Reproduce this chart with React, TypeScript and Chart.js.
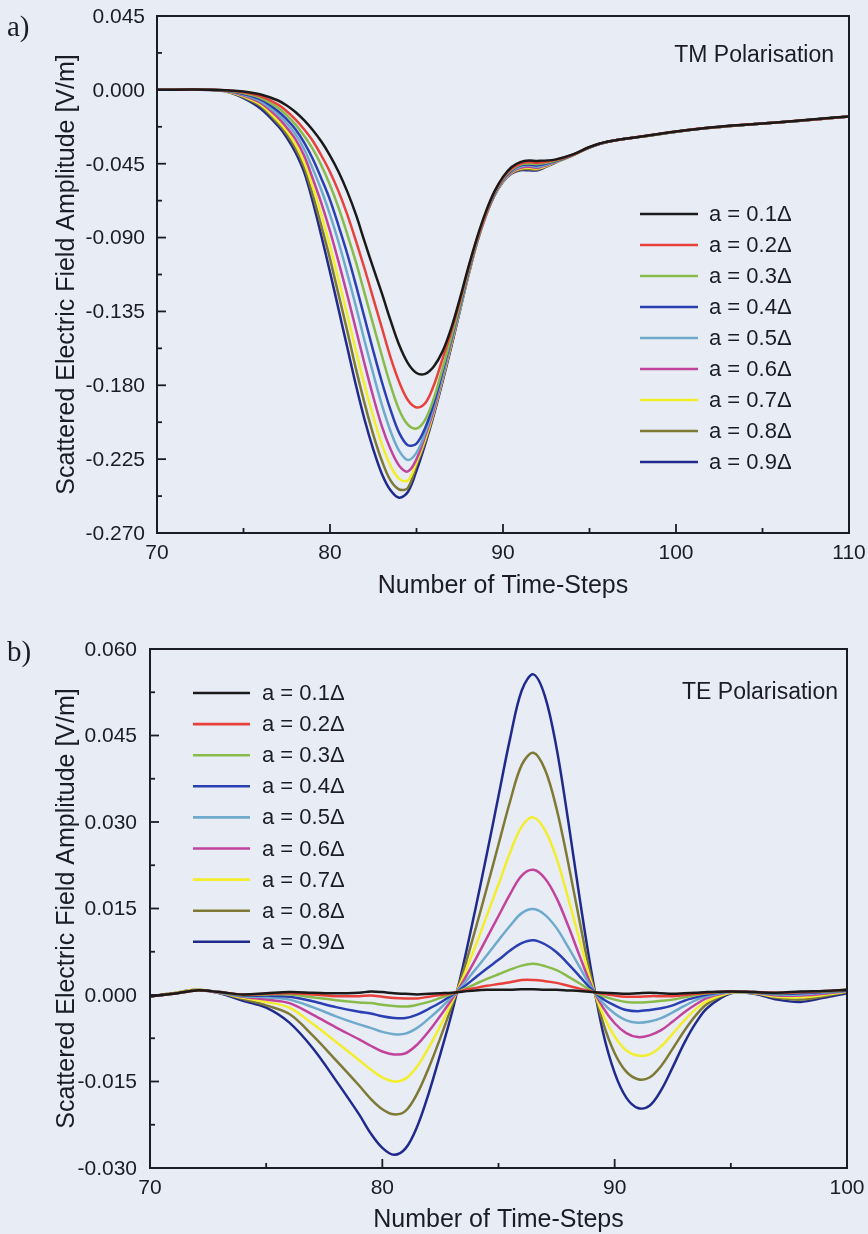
import React, { useEffect, useRef } from "react";
import { Chart, registerables } from "chart.js";

Chart.register(...registerables);

// ---------- shared ----------
const SERIES_LABELS = ["a = 0.1Δ", "a = 0.2Δ", "a = 0.3Δ", "a = 0.4Δ", "a = 0.5Δ", "a = 0.6Δ", "a = 0.7Δ", "a = 0.8Δ", "a = 0.9Δ"];
const SERIES_COLORS = ["#1a1a1a", "#e8413b", "#88bb4a", "#2a3fb2", "#6eaacb", "#c2439b", "#f2ee2c", "#7e7934", "#1f2a8c"];

// ---------- a) TM polarisation ----------
const TM_X = [70, 72, 73, 74, 75, 76, 77, 77.5, 78, 78.5, 79, 79.5, 80, 80.5, 81, 81.5, 82, 82.5, 83, 83.5, 84, 84.5, 85, 85.5, 86, 86.5, 87, 87.5, 88, 88.5, 89, 89.5, 90, 90.5, 91, 91.5, 92, 93, 94, 95, 96, 98, 100, 102, 104, 106, 108, 110];
const TM_A01 = [0, 0.0002, 0.0001, -0.0003, -0.001, -0.0028, -0.0065, -0.0095, -0.0135, -0.0185, -0.0245, -0.0315, -0.04, -0.05, -0.062, -0.076, -0.0925, -0.1085, -0.124, -0.1405, -0.1555, -0.1665, -0.1725, -0.173, -0.1685, -0.1595, -0.1455, -0.1275, -0.108, -0.09, -0.0745, -0.062, -0.053, -0.047, -0.044, -0.043, -0.0433, -0.0425, -0.0395, -0.0348, -0.0316, -0.0284, -0.0254, -0.0229, -0.0212, -0.0197, -0.0179, -0.0162];
const TM_A02 = [0, 0.0002, 0.0001, -0.0003, -0.0015, -0.004, -0.009, -0.013, -0.018, -0.024, -0.031, -0.04, -0.05, -0.062, -0.076, -0.092, -0.109, -0.127, -0.145, -0.163, -0.178, -0.189, -0.1935, -0.191, -0.18, -0.164, -0.1475, -0.129, -0.109, -0.091, -0.0755, -0.0625, -0.0535, -0.048, -0.045, -0.044, -0.0445, -0.0428, -0.0397, -0.0349, -0.0317, -0.0284, -0.0254, -0.023, -0.0212, -0.0197, -0.018, -0.0163];
const TM_A03 = [0, 0.0002, 0.0001, -0.0004, -0.002, -0.005, -0.011, -0.0155, -0.021, -0.028, -0.036, -0.046, -0.058, -0.072, -0.088, -0.105, -0.124, -0.143, -0.162, -0.18, -0.195, -0.204, -0.2063, -0.201, -0.188, -0.17, -0.151, -0.131, -0.11, -0.0915, -0.0758, -0.063, -0.054, -0.0485, -0.0455, -0.0448, -0.0452, -0.0432, -0.0398, -0.035, -0.0317, -0.0285, -0.0255, -0.023, -0.0213, -0.0198, -0.018, -0.0163];
const TM_A04 = [0, 0.0002, 0.0001, -0.0005, -0.0025, -0.006, -0.013, -0.018, -0.024, -0.032, -0.042, -0.054, -0.067, -0.083, -0.1, -0.119, -0.139, -0.159, -0.178, -0.195, -0.209, -0.2165, -0.2155, -0.206, -0.191, -0.172, -0.152, -0.132, -0.111, -0.092, -0.076, -0.0635, -0.0545, -0.049, -0.046, -0.0455, -0.046, -0.0435, -0.0399, -0.035, -0.0318, -0.0285, -0.0255, -0.023, -0.0213, -0.0198, -0.018, -0.0163];
const TM_A05 = [0, 0.0002, 0.0001, -0.0006, -0.003, -0.007, -0.015, -0.0205, -0.027, -0.036, -0.048, -0.061, -0.076, -0.093, -0.112, -0.132, -0.153, -0.173, -0.192, -0.208, -0.22, -0.2255, -0.221, -0.209, -0.193, -0.174, -0.153, -0.133, -0.1115, -0.0922, -0.0762, -0.0638, -0.055, -0.0495, -0.0468, -0.046, -0.0468, -0.0437, -0.0399, -0.035, -0.0318, -0.0285, -0.0255, -0.023, -0.0213, -0.0198, -0.018, -0.0163];
const TM_A06 = [0, 0.0002, 0.0001, -0.0007, -0.0035, -0.008, -0.017, -0.023, -0.03, -0.04, -0.054, -0.069, -0.086, -0.105, -0.125, -0.146, -0.167, -0.187, -0.205, -0.219, -0.229, -0.2325, -0.225, -0.211, -0.195, -0.175, -0.154, -0.1335, -0.112, -0.0925, -0.0765, -0.064, -0.0553, -0.05, -0.0475, -0.0468, -0.0475, -0.044, -0.0399, -0.0351, -0.0318, -0.0285, -0.0255, -0.0231, -0.0213, -0.0198, -0.018, -0.0163];
const TM_A07 = [0, 0.0002, 0, -0.0008, -0.004, -0.009, -0.019, -0.025, -0.033, -0.044, -0.059, -0.076, -0.095, -0.116, -0.137, -0.159, -0.18, -0.199, -0.216, -0.229, -0.237, -0.238, -0.227, -0.213, -0.196, -0.176, -0.155, -0.134, -0.1125, -0.0928, -0.0767, -0.0642, -0.0556, -0.0503, -0.048, -0.0475, -0.048, -0.0442, -0.04, -0.0351, -0.0318, -0.0285, -0.0255, -0.0231, -0.0213, -0.0198, -0.018, -0.0163];
const TM_A08 = [0, 0.0002, 0, -0.0009, -0.0045, -0.01, -0.0205, -0.027, -0.0355, -0.047, -0.064, -0.083, -0.103, -0.125, -0.147, -0.17, -0.191, -0.21, -0.226, -0.238, -0.2435, -0.2425, -0.2285, -0.2145, -0.197, -0.177, -0.156, -0.1345, -0.113, -0.093, -0.0768, -0.0643, -0.0558, -0.0507, -0.0485, -0.0483, -0.0485, -0.0443, -0.04, -0.0351, -0.0318, -0.0285, -0.0255, -0.0231, -0.0213, -0.0198, -0.018, -0.0163];
const TM_A09 = [0, 0.0002, -0.0001, -0.001, -0.005, -0.0115, -0.022, -0.029, -0.038, -0.05, -0.068, -0.089, -0.111, -0.134, -0.157, -0.18, -0.201, -0.219, -0.234, -0.244, -0.2485, -0.245, -0.232, -0.216, -0.198, -0.178, -0.157, -0.135, -0.113, -0.093, -0.077, -0.0645, -0.056, -0.051, -0.049, -0.049, -0.049, -0.0444, -0.04, -0.0352, -0.0318, -0.0285, -0.0255, -0.0231, -0.0213, -0.0198, -0.018, -0.0163];
const TM_Y_TICKS = [0.045, 0, -0.045, -0.09, -0.135, -0.18, -0.225, -0.27];
const TM_X_TICKS = [70, 80, 90, 100, 110];

// ---------- b) TE polarisation ----------
const TE_X = [70, 71, 72, 73, 74, 75, 76, 77, 78, 79, 79.5, 80, 80.5, 81, 81.5, 82, 82.5, 83, 83.5, 84, 84.5, 85, 85.5, 86, 86.5, 87, 87.5, 88, 88.5, 89, 89.5, 90, 90.5, 91, 91.5, 92, 92.5, 93, 93.5, 94, 95, 96, 97, 98, 99, 100];
const TE_A01 = [-0.0002, 0.0002, 0.0008, 0.0005, 0.0001, 0.0003, 0.0005, 0.0004, 0.0003, 0.0004, 0.0006, 0.0005, 0.0003, 0.0002, 0.0001, 0.0002, 0.0003, 0.0004, 0.0006, 0.0008, 0.0009, 0.0009, 0.0009, 0.001, 0.001, 0.0009, 0.0009, 0.0008, 0.0007, 0.0005, 0.0004, 0.0003, 0.0002, 0.0003, 0.0004, 0.0003, 0.0002, 0.0003, 0.0004, 0.0005, 0.0006, 0.0005, 0.0004, 0.0006, 0.0007, 0.0009];
const TE_A02 = [-0.0002, 0.0002, 0.0008, 0.0005, 0.0001, 0.0002, 0.0003, 0.0001, -0.0002, -0.0002, -0.0001, -0.0003, -0.0005, -0.0006, -0.0006, -0.0003, 0, 0.0003, 0.0008, 0.0012, 0.0016, 0.0019, 0.0022, 0.0026, 0.0026, 0.0024, 0.0021, 0.0016, 0.0011, 0.0006, 0.0002, -0.0001, -0.0003, -0.0003, -0.0002, -0.0002, -0.0002, 0, 0.0002, 0.0004, 0.0006, 0.0005, 0.0004, 0.0005, 0.0007, 0.0009];
const TE_A03 = [-0.0002, 0.0002, 0.0008, 0.0005, 0, 0.0001, 0.0001, -0.0004, -0.0009, -0.0013, -0.0014, -0.0017, -0.0019, -0.002, -0.0017, -0.0012, -0.0005, 0.0002, 0.001, 0.0019, 0.0028, 0.0036, 0.0044, 0.0051, 0.0054, 0.005, 0.0043, 0.0032, 0.002, 0.0007, -0.0002, -0.0008, -0.0012, -0.0013, -0.0012, -0.001, -0.0008, -0.0004, 0, 0.0003, 0.0006, 0.0005, 0.0003, 0.0005, 0.0006, 0.0009];
const TE_A04 = [-0.0002, 0.0002, 0.0008, 0.0005, -0.0001, -0.0001, -0.0003, -0.0011, -0.0021, -0.0029, -0.0032, -0.0037, -0.004, -0.004, -0.0034, -0.0024, -0.0013, 0, 0.0014, 0.003, 0.0046, 0.0061, 0.0077, 0.009, 0.0095, 0.0088, 0.0074, 0.0054, 0.0032, 0.001, -0.0007, -0.0018, -0.0026, -0.0028, -0.0026, -0.0023, -0.0018, -0.001, -0.0004, 0.0001, 0.0006, 0.0005, 0.0002, 0.0003, 0.0005, 0.0008];
const TE_A05 = [-0.0002, 0.0002, 0.0008, 0.0004, -0.0002, -0.0004, -0.0008, -0.0021, -0.0037, -0.0051, -0.0057, -0.0064, -0.0068, -0.0067, -0.0057, -0.0041, -0.0023, -0.0003, 0.0019, 0.0044, 0.0069, 0.0095, 0.012, 0.0142, 0.0149, 0.0139, 0.0116, 0.0083, 0.0048, 0.0013, -0.0014, -0.0032, -0.0044, -0.0048, -0.0046, -0.004, -0.003, -0.0019, -0.0009, -0.0002, 0.0005, 0.0004, 0.0001, 0.0001, 0.0004, 0.0007];
const TE_A06 = [-0.0002, 0.0002, 0.0008, 0.0004, -0.0003, -0.0008, -0.0014, -0.0034, -0.0056, -0.0077, -0.0088, -0.0098, -0.0103, -0.0101, -0.0086, -0.0063, -0.0036, -0.0007, 0.0025, 0.0061, 0.0099, 0.0137, 0.0175, 0.0207, 0.0217, 0.0202, 0.0168, 0.012, 0.0067, 0.0016, -0.0022, -0.0049, -0.0066, -0.0073, -0.007, -0.0061, -0.0046, -0.003, -0.0016, -0.0005, 0.0005, 0.0004, -0.0001, -0.0001, 0.0002, 0.0007];
const TE_A07 = [-0.0002, 0.0003, 0.0009, 0.0004, -0.0005, -0.0012, -0.0022, -0.005, -0.0081, -0.0113, -0.0129, -0.0143, -0.015, -0.0145, -0.0124, -0.0091, -0.0053, -0.0012, 0.0033, 0.0084, 0.0138, 0.0192, 0.0247, 0.0292, 0.0308, 0.0286, 0.0237, 0.0168, 0.0094, 0.0021, -0.0034, -0.0072, -0.0096, -0.0105, -0.0103, -0.0089, -0.0067, -0.0044, -0.0024, -0.001, 0.0004, 0.0003, -0.0003, -0.0004, 0, 0.0006];
const TE_A08 = [-0.0002, 0.0003, 0.0009, 0.0004, -0.0007, -0.0018, -0.0033, -0.007, -0.0113, -0.0157, -0.018, -0.0198, -0.0207, -0.0201, -0.0171, -0.0126, -0.0074, -0.0018, 0.0043, 0.0113, 0.0186, 0.0261, 0.0336, 0.0399, 0.042, 0.0391, 0.0323, 0.0229, 0.0126, 0.0028, -0.0048, -0.0101, -0.0133, -0.0146, -0.0143, -0.0123, -0.0093, -0.0062, -0.0035, -0.0015, 0.0004, 0.0003, -0.0005, -0.0008, -0.0002, 0.0005];
const TE_A09 = [-0.0002, 0.0003, 0.0009, 0.0003, -0.001, -0.0022, -0.0048, -0.0092, -0.0148, -0.0207, -0.024, -0.0265, -0.0277, -0.0266, -0.0228, -0.017, -0.0102, -0.003, 0.0055, 0.0148, 0.0245, 0.0345, 0.0445, 0.0528, 0.0556, 0.0518, 0.0428, 0.0302, 0.0166, 0.004, -0.0065, -0.0135, -0.0178, -0.0196, -0.0192, -0.0165, -0.0125, -0.0083, -0.0048, -0.0022, 0.0003, 0.0002, -0.0008, -0.0012, -0.0005, 0.0003];
const TE_Y_TICKS = [0.06, 0.045, 0.03, 0.015, 0, -0.015, -0.03];
const TE_X_TICKS = [70, 80, 90, 100];

// ---------- styling ----------
const SANS = "'Liberation Sans', Arial, Helvetica, sans-serif";
const SERIF = "'Liberation Serif', 'Times New Roman', serif";
const INK = "#1c1c26";
const BG = "#e8ecf5";

type Panel = {
  tag: string;
  title: string;
  xs: number[];
  series: number[][];
  xTicks: number[];
  yTicks: number[];
  xMin: number;
  xMax: number;
  yMin: number;
  yMax: number;
  top: number;
  height: number;
  plotLeft: number;
  plotTop: number;
  plotRight: number;
  plotBottom: number;
  yLabelRight: number;
  legend: { x0: number; x1: number; tx: number; y0: number; step: number };
  titleRight: number;
  titleBase: number;
  xTitleBase: number;
  yTitleX: number;
  tagBase: number;
};

// all positions are page coordinates
const PANELS: Panel[] = [
  {
    tag: "a)",
    title: "TM Polarisation",
    xs: TM_X,
    series: [TM_A01, TM_A02, TM_A03, TM_A04, TM_A05, TM_A06, TM_A07, TM_A08, TM_A09],
    xTicks: TM_X_TICKS,
    yTicks: TM_Y_TICKS,
    xMin: 70,
    xMax: 110,
    yMin: -0.27,
    yMax: 0.045,
    top: 0,
    height: 612,
    plotLeft: 157,
    plotTop: 16,
    plotRight: 849,
    plotBottom: 533,
    yLabelRight: 145,
    legend: { x0: 640, x1: 698, tx: 709, y0: 214, step: 31 },
    titleRight: 834,
    titleBase: 62,
    xTitleBase: 593,
    yTitleX: 67,
    tagBase: 36,
  },
  {
    tag: "b)",
    title: "TE Polarisation",
    xs: TE_X,
    series: [TE_A01, TE_A02, TE_A03, TE_A04, TE_A05, TE_A06, TE_A07, TE_A08, TE_A09],
    xTicks: TE_X_TICKS,
    yTicks: TE_Y_TICKS,
    xMin: 70,
    xMax: 100,
    yMin: -0.03,
    yMax: 0.06,
    top: 612,
    height: 622,
    plotLeft: 150,
    plotTop: 649,
    plotRight: 847,
    plotBottom: 1168,
    yLabelRight: 137,
    legend: { x0: 193, x1: 250, tx: 262, y0: 693, step: 31.1 },
    titleRight: 838,
    titleBase: 699,
    xTitleBase: 1227,
    yTitleX: 67,
    tagBase: 661,
  },
];

function fmtY(v: number) {
  if (Math.abs(v) < 1e-9) return "0.000";
  return v.toFixed(3);
}

function decor(p: Panel) {
  const off = p.top;
  return {
    id: "decor",
    afterDraw(chart: any) {
      const { ctx, chartArea: a, scales } = chart;
      const xs = scales.x;
      const ys = scales.y;
      ctx.save();
      const line = (x1: number, y1: number, x2: number, y2: number) => {
        ctx.beginPath();
        ctx.moveTo(x1, y1);
        ctx.lineTo(x2, y2);
        ctx.stroke();
      };
      // frame
      ctx.strokeStyle = INK;
      ctx.lineWidth = 2;
      ctx.strokeRect(a.left, a.top, a.right - a.left, a.bottom - a.top);
      // inward ticks + labels
      ctx.lineWidth = 1.8;
      ctx.fillStyle = INK;
      ctx.font = `21px ${SANS}`;
      ctx.textAlign = "center";
      ctx.textBaseline = "middle";
      p.xTicks.forEach((v, i) => {
        const px = xs.getPixelForValue(v);
        line(px, a.bottom, px, a.bottom - 9);
        ctx.fillText(String(v), px, a.bottom + 20);
        if (i < p.xTicks.length - 1) {
          const m = xs.getPixelForValue((v + p.xTicks[i + 1]) / 2);
          line(m, a.bottom, m, a.bottom - 5);
        }
      });
      ctx.textAlign = "right";
      p.yTicks.forEach((v, i) => {
        const py = ys.getPixelForValue(v);
        line(a.left, py, a.left + 9, py);
        ctx.fillText(fmtY(v), p.yLabelRight, py + 1);
        if (i < p.yTicks.length - 1) {
          const m = ys.getPixelForValue((v + p.yTicks[i + 1]) / 2);
          line(a.left, m, a.left + 5, m);
        }
      });
      // legend
      ctx.font = `22px ${SANS}`;
      ctx.textAlign = "left";
      SERIES_LABELS.forEach((lab, i) => {
        const y = p.legend.y0 + i * p.legend.step - off;
        ctx.strokeStyle = SERIES_COLORS[i];
        ctx.lineWidth = 2.6;
        line(p.legend.x0, y, p.legend.x1, y);
        ctx.fillStyle = INK;
        ctx.fillText(lab, p.legend.tx, y + 1);
      });
      // panel title
      ctx.textBaseline = "alphabetic";
      ctx.font = `23px ${SANS}`;
      ctx.textAlign = "right";
      ctx.fillText(p.title, p.titleRight, p.titleBase - off);
      // axis titles
      ctx.font = `25px ${SANS}`;
      ctx.textAlign = "center";
      ctx.fillText("Number of Time-Steps", (a.left + a.right) / 2, p.xTitleBase - off);
      ctx.save();
      ctx.translate(p.yTitleX, (a.top + a.bottom) / 2);
      ctx.rotate(-Math.PI / 2);
      ctx.textBaseline = "middle";
      ctx.fillText("Scattered Electric Field Amplitude [V/m]", 0, 0);
      ctx.restore();
      // panel tag
      ctx.font = `29px ${SERIF}`;
      ctx.textAlign = "left";
      ctx.textBaseline = "alphabetic";
      ctx.fillText(p.tag, 7, p.tagBase - off);
      ctx.restore();
    },
  };
}

function PanelChart({ p }: { p: Panel }) {
  const ref = useRef<HTMLCanvasElement | null>(null);
  useEffect(() => {
    if (!ref.current) return;
    const padTop = p.plotTop - p.top;
    const padRight = 868 - p.plotRight;
    const xAxisH = p.top + p.height - p.plotBottom;
    const chart = new Chart(ref.current, {
      type: "line",
      data: {
        datasets: p.series.map((vals, i) => ({
          label: SERIES_LABELS[i],
          data: p.xs.map((x, j) => ({ x, y: vals[j] })),
          borderColor: SERIES_COLORS[i],
          backgroundColor: SERIES_COLORS[i],
          borderWidth: 2.5,
          pointRadius: 0,
          fill: false,
          tension: 0.35,
        })),
      },
      options: {
        animation: false,
        responsive: false,
        maintainAspectRatio: false,
        layout: { padding: { left: 0, top: padTop, right: padRight, bottom: 0 } },
        plugins: { legend: { display: false }, tooltip: { enabled: false }, title: { display: false } },
        scales: {
          x: {
            type: "linear",
            min: p.xMin,
            max: p.xMax,
            grid: { display: false, drawTicks: false },
            border: { display: false },
            ticks: { display: false },
            afterFit: (s: any) => {
              s.height = xAxisH;
            },
          },
          y: {
            type: "linear",
            min: p.yMin,
            max: p.yMax,
            grid: { display: false, drawTicks: false },
            border: { display: false },
            ticks: { display: false },
            afterFit: (s: any) => {
              s.width = p.plotLeft;
            },
          },
        },
      },
      plugins: [decor(p)],
    });
    return () => chart.destroy();
  }, [p]);
  return (
    <canvas
      ref={ref}
      width={868}
      height={p.height}
      style={{ position: "absolute", left: 0, top: p.top, width: 868, height: p.height }}
    />
  );
}

export default function App() {
  return (
    <div style={{ position: "absolute", left: 0, top: 0, width: 868, height: 1234, background: BG, overflow: "hidden" }}>
      {PANELS.map((p) => (
        <PanelChart key={p.tag} p={p} />
      ))}
    </div>
  );
}
